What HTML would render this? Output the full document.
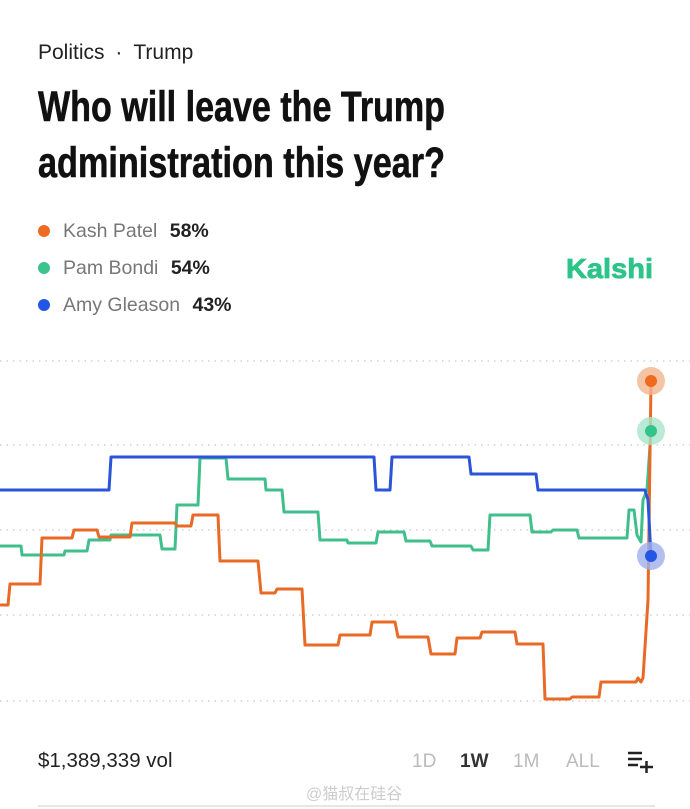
<!DOCTYPE html>
<html><head><meta charset="utf-8"><style>
html,body{margin:0;padding:0;background:#fff;width:690px;height:809px;overflow:hidden}
text{font-family:"Liberation Sans","Noto Sans CJK SC",sans-serif}
</style></head><body>
<svg width="690" height="809" viewBox="0 0 690 809" xmlns="http://www.w3.org/2000/svg">
<text x="38" y="59" font-size="21" fill="#222">Politics  <tspan dx="5">·</tspan><tspan dx="11">Trump</tspan></text>
<text x="38" y="121" font-size="43" font-weight="bold" fill="#111" stroke="#111" stroke-width="0.6" textLength="407" lengthAdjust="spacingAndGlyphs">Who will leave the Trump</text>
<text x="38" y="177" font-size="43" font-weight="bold" fill="#111" stroke="#111" stroke-width="0.6" textLength="407" lengthAdjust="spacingAndGlyphs">administration this year?</text>
<circle cx="44" cy="231" r="6" fill="#ef6a24"/>
<text x="63" y="237" font-size="19.5" fill="#777">Kash Patel <tspan dx="7" font-weight="bold" fill="#222">58%</tspan></text>
<circle cx="44" cy="268" r="6" fill="#3cc48e"/>
<text x="63" y="274" font-size="19.5" fill="#777">Pam Bondi <tspan dx="7" font-weight="bold" fill="#222">54%</tspan></text>
<circle cx="44" cy="305" r="6" fill="#2456e6"/>
<text x="63" y="311" font-size="19.5" fill="#777">Amy Gleason <tspan dx="7" font-weight="bold" fill="#222">43%</tspan></text>
<text x="566" y="278" font-size="28" font-weight="bold" fill="#2cc48a" stroke="#2cc48a" stroke-width="0.8" textLength="87" lengthAdjust="spacingAndGlyphs">Kalshi</text>
<g stroke="#c8c8c8" stroke-width="1.3" stroke-dasharray="1.5 5">
<line x1="0" y1="361" x2="690" y2="361"/><line x1="0" y1="445" x2="690" y2="445"/>
<line x1="0" y1="530" x2="690" y2="530"/><line x1="0" y1="615" x2="690" y2="615"/>
<line x1="0" y1="701" x2="690" y2="701"/></g>
<g fill="none" stroke-width="3" stroke-linejoin="round">
<polyline stroke="#40bf8c" points="0,546 21,546 22,555 64,555 65,551 87,551 89,540 110,540 111,535 160,535 162,549 175,549 177,505 198,505 200,458 226,458 228,479 265,479 266,490 282,490 284,512 318,512 320,540 347,540 348,543 376,543 378,532 404,532 406,541 430,541 432,546 471,546 473,550 488,550 490,515 530,515 532,532 551,532 553,530 577,530 579,538 627,538 629,510 634,510 637,535 641,542 643,500 647,490 651,431"/>
<polyline stroke="#e86a26" points="0,605 8,605 10,584 40,584 42,538 72,538 74,530 97,530 99,537 130,537 132,523 175,523 177,526 191,526 193,515 218,515 220,561 258,561 261,593 275,593 277,589 302,589 305,645 338,645 340,635 370,635 372,622 395,622 398,637 428,637 431,654 455,654 457,638 480,638 482,632 515,632 517,644 543,644 545,699 570,699 572,697 599,697 601,682 636,682 638,678 641,682 643,678 648,600 651,381"/>
<polyline stroke="#2b55d6" points="0,490 109,490 111,457 374,457 376,490 390,490 392,457 469,457 471,474 536,474 538,490 645,490 648,500 651,556"/>
</g>
<circle cx="651" cy="381" r="14" fill="#f3b58f" opacity="0.8"/><circle cx="651" cy="381" r="6" fill="#f06a1e"/>
<circle cx="651" cy="431" r="14" fill="#a8e5cc" opacity="0.8"/><circle cx="651" cy="431" r="6" fill="#33c48a"/>
<circle cx="651" cy="556" r="14" fill="#9fb0ee" opacity="0.8"/><circle cx="651" cy="556" r="6" fill="#2456e6"/>
<text x="38" y="767" font-size="20.5" fill="#222">$1,389,339 vol</text>
<text x="412" y="767" font-size="19" fill="#bbb">1D</text>
<text x="460" y="767" font-size="19" font-weight="bold" fill="#333">1W</text>
<text x="513" y="767" font-size="19" fill="#bbb">1M</text>
<text x="566" y="767" font-size="19" fill="#bbb">ALL</text>
<g stroke="#222" stroke-width="2.5"><line x1="628" y1="753" x2="642" y2="753"/><line x1="628" y1="759" x2="642" y2="759"/><line x1="628" y1="765" x2="638" y2="765"/><line x1="640" y1="767" x2="653" y2="767"/><line x1="646.5" y1="761" x2="646.5" y2="773"/></g>
<text x="306" y="799" font-size="16" fill="#ccc">@猫叔在硅谷</text>
<line x1="38" y1="806" x2="655" y2="806" stroke="#e6e6e6" stroke-width="2"/>
</svg>
</body></html>
